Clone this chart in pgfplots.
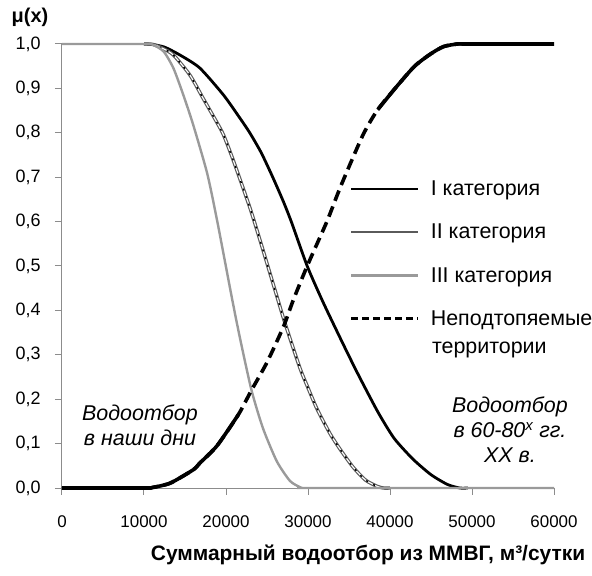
\documentclass[border=0pt]{standalone}
\usepackage{fontspec}
\setmainfont{Liberation Sans}
\usepackage{pgfplots}
\usepackage{pgfplotstable}
\pgfplotsset{compat=1.18}

\definecolor{axgray}{HTML}{8C8C8C}
\definecolor{cattwo}{HTML}{5A5A5A}
\definecolor{catthree}{HTML}{9A9A9A}

% I категория
\pgfplotstableread{
x y
10000 1.0
11000 0.999
12500 0.993
14400 0.975
16800 0.946
19700 0.885
21700 0.833
22900 0.800
24300 0.755
25700 0.700
27000 0.645
28000 0.598
29900 0.500
31800 0.420
34000 0.335
36000 0.260
38500 0.172
40500 0.112
42800 0.065
45000 0.030
47000 0.008
48500 0.0
49500 0.0
}\catone

% II категория
\pgfplotstableread{
x y
10000 1.0
11100 0.999
12300 0.990
13600 0.975
15600 0.930
17200 0.878
18900 0.823
19700 0.795
20850 0.740
22900 0.632
24150 0.558
26200 0.432
27200 0.371
29000 0.271
29900 0.230
31100 0.178
32700 0.122
34000 0.085
35500 0.047
37000 0.018
38400 0.004
39200 0.0
40000 0.0
}\cattwo

% III категория
\pgfplotstableread{
x y
0 1.0
10000 1.0
11000 0.999
12400 0.983
13600 0.945
14800 0.885
16000 0.818
17700 0.709
18900 0.604
20700 0.430
21700 0.338
23100 0.221
24500 0.135
26200 0.060
27800 0.016
29000 0.002
29300 0.0
30500 0.0
60000 0.0
}\catthree

% Неподтопяемые территории
\pgfplotstableread{
x y
0 0.0
10000 0.0
11000 0.001
13200 0.011
16000 0.041
16800 0.056
18900 0.095
21500 0.165
23100 0.220
25000 0.283
27000 0.363
28200 0.423
29900 0.500
32300 0.600
34000 0.680
36700 0.795
38500 0.852
40850 0.905
43000 0.950
44900 0.977
46500 0.994
48200 1.0
49500 1.0
60000 1.0
}\dry

\pgfplotstableread{
x y
0 0.0
10000 0.0
11000 0.001
13200 0.011
16000 0.041
16800 0.056
18900 0.095
21500 0.165
}\drylow

\pgfplotstableread{
x y
38500 0.852
40850 0.905
43000 0.950
44900 0.977
46500 0.994
48200 1.0
49500 1.0
60000 1.0
}\dryhigh

\begin{document}
\begin{tikzpicture}
\path[use as bounding box] (-62bp,-88bp) rectangle (530bp,488bp);
\begin{axis}[
    scale only axis,
    width=492bp, height=444bp,
    xmin=0, xmax=60000,
    ymin=0, ymax=1,
    axis lines*=left,
    axis line style={axgray, line width=1bp},
    tick style={axgray, line width=1bp},
    tick align=outside,
    major tick length=7bp,
    xtick={0,10000,20000,30000,40000,50000,60000},
    ytick={0,0.1,0.2,0.3,0.4,0.5,0.6,0.7,0.8,0.9,1.0},
    scaled x ticks=false,
    /pgf/number format/assume math mode=true,
    x tick label style={/pgf/number format/1000 sep={}, font=\fontsize{17}{17}\selectfont, yshift=-17bp},
    y tick label style={/pgf/number format/.cd, fixed, fixed zerofill, precision=1, use comma, /tikz/.cd, font=\fontsize{18}{18}\selectfont, xshift=-11bp},
    xlabel={Суммарный водоотбор из ММВГ, м³/сутки},
    xlabel style={at={(axis description cs:0.622,-0.151)}, anchor=center, font=\bfseries\fontsize{21}{21}\selectfont},
    clip=false,
    legend cell align=left,
    legend style={draw=none, fill=none, at={(rel axis cs:0.585,0.692)}, anchor=north west,
        font=\fontsize{21.5}{24}\selectfont, row sep=27bp, column sep=11bp, inner sep=0pt,
        nodes={inner sep=0pt}},
    legend image code/.code={\draw[#1] (0bp,0bp) -- (67bp,0bp);},
]
\addplot[black, line width=2.8bp, smooth, tension=0.4] table {\catone};
\addlegendentry{I категория}
\addplot[cattwo, line width=3.4bp, smooth, tension=0.4, legend image post style={line width=1.7bp}] table {\cattwo};
\addlegendentry{II категория}
\addplot[white, line width=1.1bp, smooth, tension=0.4, forget plot] table {\cattwo};
\addplot[black, line width=1.4bp, dash pattern=on 2bp off 6bp, smooth, tension=0.4, forget plot] table {\cattwo};
\addplot[catthree, line width=2.4bp, smooth, tension=0.4] table {\catthree};
\addlegendentry{III категория}
\addplot[black, line width=3.6bp, dash pattern=on 11bp off 6bp, smooth, tension=0.4,
    legend image post style={dash pattern=on 7bp off 4bp, line width=2.8bp}] table {\dry};
\addlegendentry{Неподтопяемые}
\addplot[black, line width=3.6bp, smooth, tension=0.4, forget plot] table {\drylow};
\addplot[black, line width=3.6bp, smooth, tension=0.4, forget plot] table {\dryhigh};

\node[anchor=west, inner sep=0pt, font=\fontsize{21.5}{24}\selectfont] at (axis cs:45100,0.312) {территории};
\node[align=center, font=\itshape\fontsize{21.5}{25}\selectfont] at (axis cs:9510,0.142) {Водоотбор\\в наши дни};
\node[align=center, font=\itshape\fontsize{21.5}{25}\selectfont] at (axis cs:54630,0.131) {Водоотбор\\в 60-80\textsuperscript{х} гг.\\XX в.};
\node[font=\bfseries\fontsize{20}{20}\selectfont] at (rel axis cs:-0.065,1.059) {μ(x)};
\end{axis}
\end{tikzpicture}
\end{document}
